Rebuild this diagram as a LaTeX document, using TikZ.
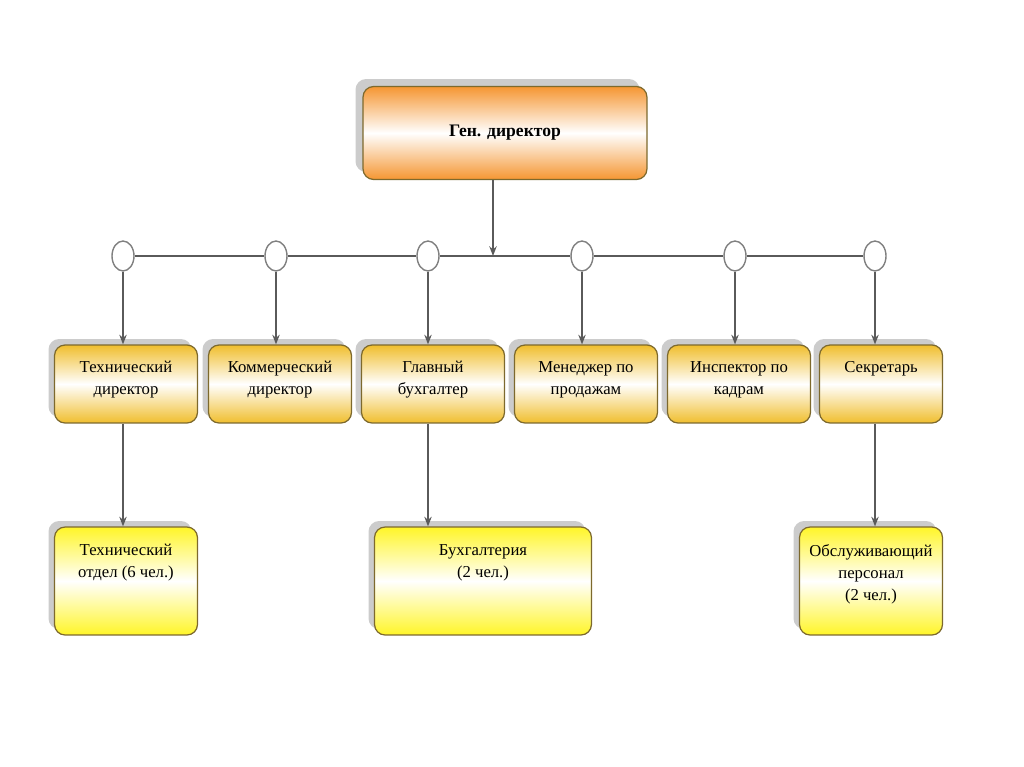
\documentclass[tikz,border=0pt]{standalone}
\usepackage{fontspec}
\setmainfont{Liberation Serif}
\usepackage{xcolor}
\usetikzlibrary{positioning, arrows.meta, shapes.geometric, shadows}

\definecolor{boxedge}{RGB}{125,105,45}
\definecolor{orangetop}{RGB}{245,150,50}
\definecolor{goldtop}{RGB}{240,190,45}
\definecolor{yellowtop}{RGB}{255,245,40}
\definecolor{wire}{RGB}{90,90,90}

% text pinned to the top of a box
\newcommand{\boxtxt}[3]{\parbox[c][#2][t]{#1}{\centering #3}}

\begin{document}
\begin{tikzpicture}[x=0.02cm, y=-0.02cm,
  boss/.style={draw=boxedge, line width=0.7pt, rounded corners=6pt, minimum width=5.68cm, minimum height=1.86cm, align=center, font=\bfseries\fontsize{10}{13}\selectfont, top color=orangetop, bottom color=orangetop, middle color=white, drop shadow={shadow xshift=-0.15cm, shadow yshift=0.15cm, fill=gray!50, opacity=0.8}},
  chief/.style={draw=boxedge, line width=0.7pt, rounded corners=6pt, minimum width=2.86cm, minimum height=1.56cm, inner xsep=0pt, inner ysep=0.33cm, font=\fontsize{9.5}{12.5}\selectfont, top color=goldtop, bottom color=goldtop, middle color=white, drop shadow={shadow xshift=-0.12cm, shadow yshift=0.12cm, fill=gray!50, opacity=0.8}},
  staffbox/.style={draw=boxedge, line width=0.7pt, rounded corners=6pt, minimum width=2.86cm, minimum height=2.16cm, inner xsep=0pt, inner ysep=0.35cm, font=\fontsize{9.5}{12.5}\selectfont, top color=yellowtop, bottom color=yellowtop, middle color=white, drop shadow={shadow xshift=-0.12cm, shadow yshift=0.12cm, fill=gray!50, opacity=0.8}},
  joint/.style={ellipse, draw=gray, fill=white, thick, minimum width=0.44cm, minimum height=0.6cm, inner sep=0pt},
  wir/.style={draw=wire, line width=0.8pt},
  arr/.style={wir, -{Stealth[length=5.5pt, width=4.2pt]}}
]
  \useasboundingbox (0,0) rectangle (1024,767);

  \node[boss] (gendir) at (505,133) {Ген. директор};

  \node[chief] (techdir) at (126,384) {\boxtxt{2.7cm}{0.9cm}{Технический\\директор}};
  \node[chief] (commdir) at (280,384) {\boxtxt{2.7cm}{0.9cm}{Коммерческий\\директор}};
  \node[chief] (chbuh) at (433,384) {\boxtxt{2.7cm}{0.9cm}{Главный\\бухгалтер}};
  \node[chief] (salesmgr) at (586,384) {\boxtxt{2.7cm}{0.9cm}{Менеджер по\\продажам}};
  \node[chief] (hrinsp) at (739,384) {\boxtxt{2.7cm}{0.9cm}{Инспектор по\\кадрам}};
  \node[chief, minimum width=2.46cm] (secr) at (881,384) {\boxtxt{2.3cm}{0.9cm}{Секретарь}};

  \node[staffbox] (techdept) at (126,581) {\boxtxt{2.7cm}{1.46cm}{Технический\\отдел (6 чел.)}};
  \node[staffbox, minimum width=4.34cm] (buh) at (483,581) {\boxtxt{4.1cm}{1.46cm}{Бухгалтерия\\(2 чел.)}};
  \node[staffbox] (service) at (871,581) {\boxtxt{2.7cm}{1.46cm}{Обслуживающий\\персонал\\(2 чел.)}};

  % bus with joints
  \foreach \n/\x in {1/123, 2/276, 3/428, 4/582, 5/735, 6/875}
    \node[joint] (j\n) at (\x,256) {};
  \coordinate (bus) at (493,256);

  \draw[wir] (j1) -- (j2);
  \draw[wir] (j2) -- (j3);
  \draw[wir] (j3) -- (j4);
  \draw[wir] (j4) -- (j5);
  \draw[wir] (j5) -- (j6);
  \draw[arr] (gendir.south -| bus) -- (bus);

  \draw[arr] (j1) -- (j1 |- techdir.north);
  \draw[arr] (j2) -- (j2 |- commdir.north);
  \draw[arr] (j3) -- (j3 |- chbuh.north);
  \draw[arr] (j4) -- (j4 |- salesmgr.north);
  \draw[arr] (j5) -- (j5 |- hrinsp.north);
  \draw[arr] (j6) -- (j6 |- secr.north);

  \draw[arr] (j1 |- techdir.south) -- (j1 |- techdept.north);
  \draw[arr] (j3 |- chbuh.south) -- (j3 |- buh.north);
  \draw[arr] (j6 |- secr.south) -- (j6 |- service.north);
\end{tikzpicture}
\end{document}
